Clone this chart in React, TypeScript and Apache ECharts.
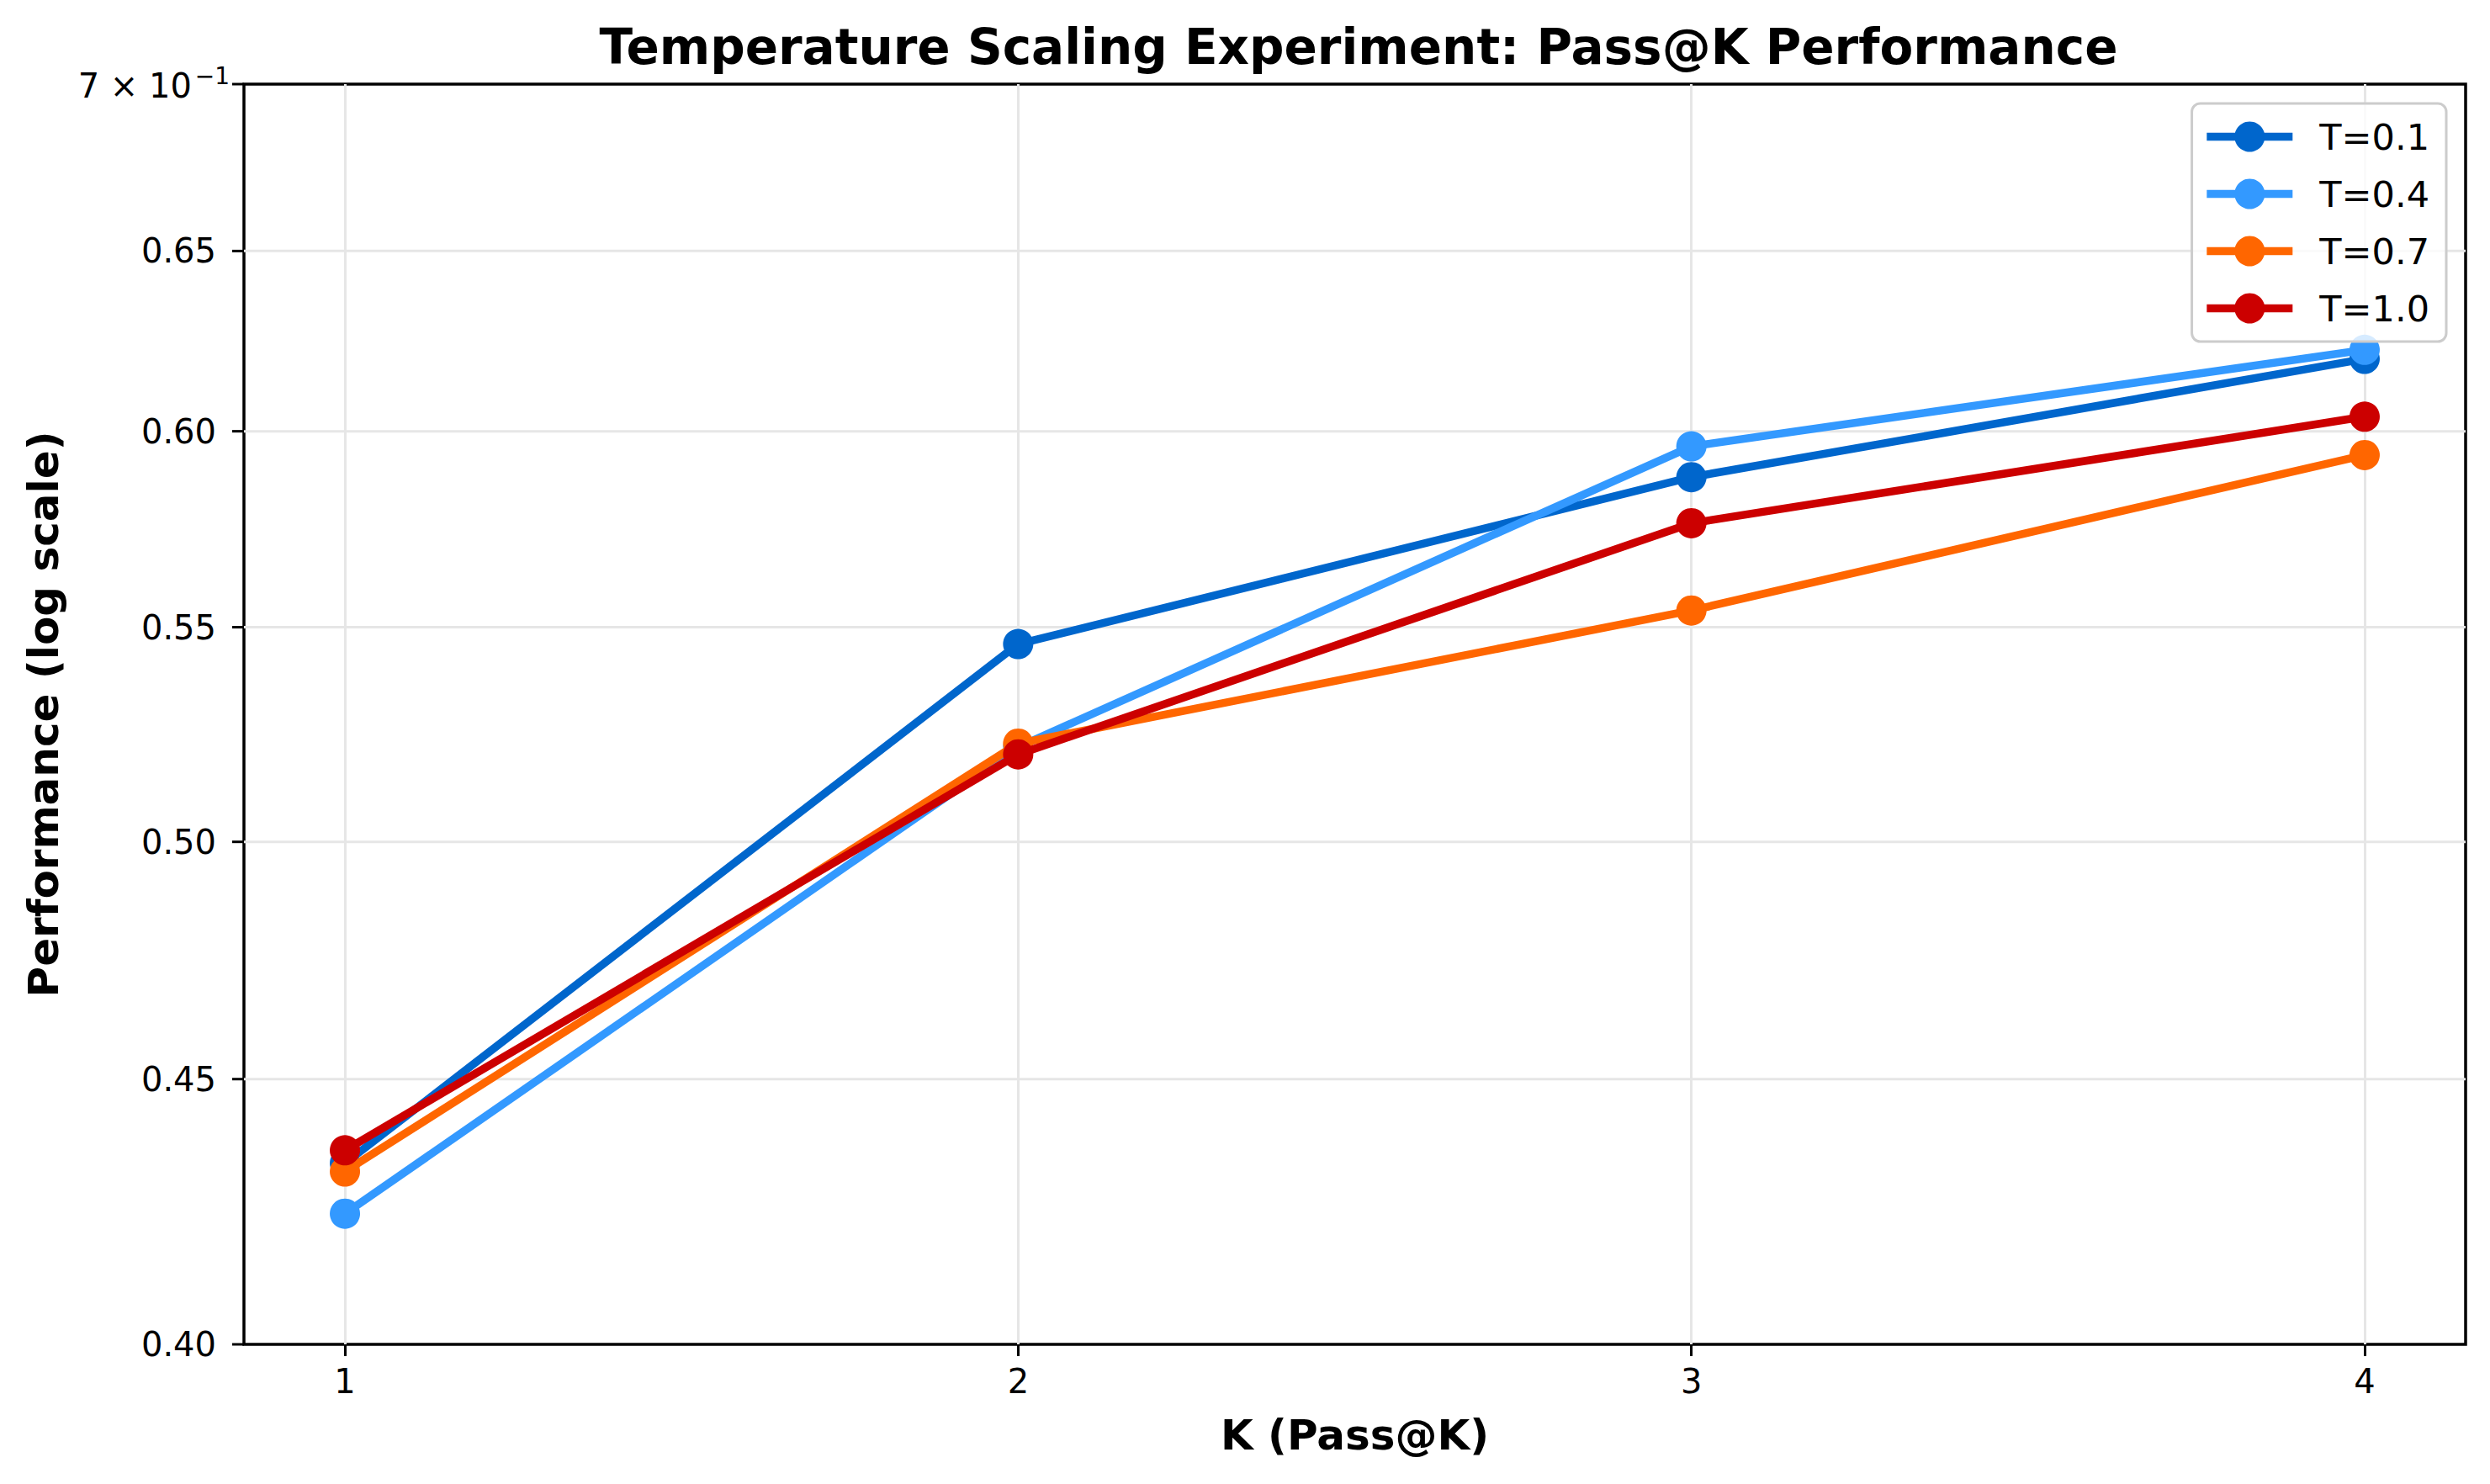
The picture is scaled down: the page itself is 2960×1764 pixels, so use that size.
import React, { useEffect, useRef } from 'react';
import * as echarts from 'echarts';

const K_VALUES = [1, 2, 3, 4];
const SERIES_NAMES = ['T=0.1', 'T=0.4', 'T=0.7', 'T=1.0'];
const T01 = [0.4335, 0.5459, 0.5879, 0.6196];
const T04 = [0.4239, 0.5215, 0.596, 0.6221];
const T07 = [0.4319, 0.5223, 0.5541, 0.5937];
const T10 = [0.436, 0.5198, 0.576, 0.6039];
const COLORS = ['#0066CC', '#3399FF', '#FF6600', '#CC0000'];
const Y_TICKS = [0.4, 0.45, 0.5, 0.55, 0.6, 0.65];
const Y_TICK_LABELS = ['0.40', '0.45', '0.50', '0.55', '0.60', '0.65'];
const Y_TOP_TICK = 0.7;
const Y_TOP_LABEL = '7 × 10';
const Y_TOP_EXP = '−1';
const TITLE = 'Temperature Scaling Experiment: Pass@K Performance';
const X_NAME = 'K (Pass@K)';
const Y_NAME = 'Performance (log scale)';

const FONT = 'DejaVu Sans';
const LINE_W = 9.5;

export default function App() {
  const ref = useRef<HTMLDivElement>(null);
  useEffect(() => {
    const chart = echarts.init(ref.current!, null, { renderer: 'svg' });
    const seriesValues = [T01, T04, T07, T10];
    const option: any = {
      animation: false,
      backgroundColor: '#ffffff',
      title: {
        text: TITLE,
        left: 1610,
        top: 22,
        textAlign: 'center',
        textStyle: { fontSize: 58, fontWeight: 'bold', fontFamily: FONT, color: '#000' },
      },
      legend: {
        right: 52,
        top: 123,
        orient: 'vertical',
        itemWidth: 102,
        itemHeight: 45,
        itemGap: 23,
        padding: [17, 20, 17, 13],
        backgroundColor: 'rgba(255,255,255,0.8)',
        borderColor: '#cccccc',
        borderWidth: 3,
        borderRadius: 10,
        lineStyle: { width: LINE_W },
        textStyle: { fontSize: 43, fontFamily: FONT, color: '#000', padding: [0, 0, 0, 27], lineHeight: 45 },
        data: SERIES_NAMES,
        z: 20,
      },
      grid: {
        left: 290,
        right: 29,
        top: 100,
        bottom: 166,
        show: true,
        borderColor: '#000',
        borderWidth: 3.5,
        containLabel: false,
        outerBoundsMode: 'none',
      },
      xAxis: {
        type: 'value',
        min: 0.85,
        max: 4.15,
        axisLine: { show: false },
        axisTick: { show: true, customValues: K_VALUES, length: 14, lineStyle: { color: '#000', width: 3 } },
        axisLabel: {
          show: true,
          customValues: K_VALUES,
          fontSize: 40,
          fontFamily: FONT,
          color: '#000',
          margin: 24,
          formatter: (v: number) => String(v),
        },
        splitLine: { show: true, lineStyle: { color: '#e6e6e6', width: 3 } },
      },
      yAxis: {
        type: 'log',
        logBase: 10,
        min: 0.4,
        max: 0.7,
        axisLine: { show: false },
        axisTick: { show: false },
        axisLabel: { show: false },
        splitLine: { show: false },
      },
      series: SERIES_NAMES.map((name, i) => ({
        name,
        type: 'line',
        data: K_VALUES.map((k, j) => [k, seriesValues[i][j]]),
        symbol: 'circle',
        symbolSize: 36,
        showSymbol: true,
        lineStyle: { width: LINE_W, color: COLORS[i] },
        itemStyle: { color: COLORS[i] },
        color: COLORS[i],
        emphasis: { disabled: true },
        z: 3 + i,
      })),
    };
    chart.setOption(option);

    const px = (v: number) => chart.convertToPixel({ yAxisIndex: 0 }, v) as number;
    const x0 = chart.convertToPixel({ xAxisIndex: 0 }, 0.85) as number;
    const x1 = chart.convertToPixel({ xAxisIndex: 0 }, 4.15) as number;
    const yBottom = px(0.4);
    const yTop = px(Y_TOP_TICK);
    const els: any[] = [];
    Y_TICKS.forEach((v, i) => {
      const y = px(v);
      if (i > 0) {
        els.push({
          type: 'line',
          silent: true,
          z: 1,
          shape: { x1: x0, y1: y, x2: x1, y2: y },
          style: { stroke: '#e6e6e6', lineWidth: 3 },
        });
      }
      els.push({
        type: 'line',
        silent: true,
        z: 10,
        shape: { x1: x0 - 14, y1: y, x2: x0, y2: y },
        style: { stroke: '#000', lineWidth: 3 },
      });
      els.push({
        type: 'text',
        silent: true,
        z: 10,
        x: x0 - 33,
        y,
        style: {
          text: Y_TICK_LABELS[i],
          fontSize: 40,
          fontFamily: FONT,
          fill: '#000',
          align: 'right',
          verticalAlign: 'middle',
        },
      });
    });
    // top tick 7 x 10^-1
    els.push({
      type: 'line',
      silent: true,
      z: 10,
      shape: { x1: x0 - 14, y1: yTop, x2: x0, y2: yTop },
      style: { stroke: '#000', lineWidth: 3 },
    });
    els.push({
      type: 'text',
      silent: true,
      z: 10,
      x: x0 - 62,
      y: yTop + 2,
      style: { text: Y_TOP_LABEL, fontSize: 40, fontFamily: FONT, fill: '#000', align: 'right', verticalAlign: 'middle' },
    });
    els.push({
      type: 'text',
      silent: true,
      z: 10,
      x: x0 - 17,
      y: yTop - 10,
      style: { text: Y_TOP_EXP, fontSize: 28, fontFamily: FONT, fill: '#000', align: 'right', verticalAlign: 'middle' },
    });
    // axis names
    els.push({
      type: 'text',
      silent: true,
      x: (x0 + x1) / 2,
      y: yBottom + 108,
      style: { text: X_NAME, fontSize: 50, fontWeight: 'bold', fontFamily: FONT, fill: '#000', align: 'center', verticalAlign: 'middle' },
    });
    els.push({
      type: 'text',
      silent: true,
      x: 52,
      y: (yBottom + yTop) / 2,
      rotation: Math.PI / 2,
      style: { text: Y_NAME, fontSize: 50, fontWeight: 'bold', fontFamily: FONT, fill: '#000', align: 'center', verticalAlign: 'middle' },
    });
    chart.setOption({ graphic: { elements: els } });

    return () => chart.dispose();
  }, []);
  return <div ref={ref} style={{ position: 'fixed', left: 0, top: 0, width: 2960, height: 1764 }} />;
}
